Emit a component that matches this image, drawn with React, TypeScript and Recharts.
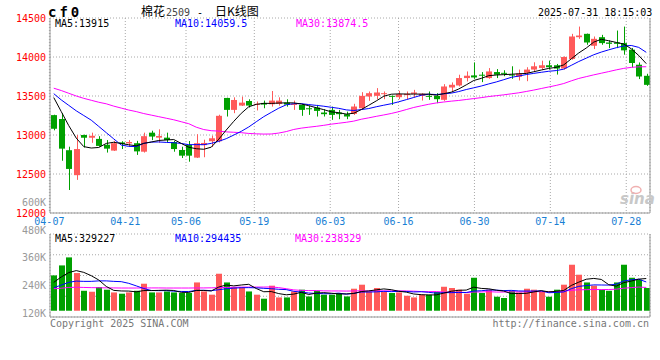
import React from 'react';
import { ComposedChart, Bar, Line, XAxis, YAxis, CartesianGrid } from 'recharts';

const dates = [
  '04-07','04-08','04-09','04-10','04-11','04-14','04-15','04-16','04-17','04-18',
  '04-21','04-22','04-23','04-24','04-25','04-28','04-29','04-30','05-06','05-07',
  '05-08','05-09','05-12','05-13','05-14','05-15','05-16','05-19','05-20','05-21',
  '05-22','05-23','05-26','05-27','05-28','05-29','05-30','06-03','06-04','06-05',
  '06-06','06-09','06-10','06-11','06-12','06-13','06-16','06-17','06-18','06-19',
  '06-20','06-23','06-24','06-25','06-26','06-27','06-30','07-01','07-02','07-03',
  '07-04','07-07','07-08','07-09','07-10','07-11','07-14','07-15','07-16','07-17',
  '07-18','07-21','07-22','07-23','07-24','07-25','07-28','07-29','07-30','07-31',
];

const opens = [
  13255,13205,12805,12485,13000,12965,12950,12875,12800,12905,
  12893,12895,12786,13030,12966,12966,12910,12808,12872,12710,
  12870,12920,12920,13475,13322,13377,13436,13395,13411,13394,
  13398,13415,13385,13386,13343,13352,13288,13322,13288,13267,
  13270,13343,13494,13502,13528,13502,13485,13511,13528,13502,
  13502,13502,13451,13609,13635,13730,13764,13773,13730,13807,
  13797,13775,13746,13797,13839,13860,13894,13894,13852,13975,
  14254,14297,14144,14254,14186,14186,14178,14094,13901,13759,
];
const highs = [
  13260,13280,12850,13000,13005,13030,12985,12935,12925,12920,
  12935,12925,13030,13055,13073,13030,12923,12850,12923,13010,
  12940,12992,13260,13478,13483,13492,13458,13430,13441,13564,
  13483,13458,13441,13390,13373,13386,13330,13364,13322,13300,
  13400,13549,13558,13601,13558,13505,13567,13558,13579,13536,
  13558,13536,13652,13674,13773,13815,13931,13807,13858,13845,
  13830,13881,13839,13869,13932,13953,13953,13911,14008,14297,
  14390,14300,14263,14284,14212,14339,14390,14116,13930,13785,
];
const lows = [
  13060,12670,12295,12425,12840,12900,12850,12775,12795,12820,
  12850,12745,12775,12935,12902,12902,12786,12705,12658,12705,
  12715,12847,12905,13237,13280,13372,13352,13315,13343,13364,
  13377,13364,13322,13246,13258,13237,13237,13195,13203,13203,
  13257,13330,13438,13459,13459,13386,13459,13459,13485,13442,
  13451,13408,13438,13558,13622,13687,13721,13678,13721,13730,
  13754,13720,13699,13690,13818,13839,13839,13775,13839,13966,
  14233,14157,14102,14157,14114,14114,14030,13866,13717,13630,
];
const closes = [
  13080,12825,12565,12820,12965,12990,12860,12825,12895,12885,
  12910,12790,12985,12980,12987,12936,12820,12735,12735,12895,
  12898,12958,13246,13322,13449,13415,13377,13400,13390,13441,
  13441,13390,13398,13322,13330,13309,13267,13258,13267,13237,
  13365,13502,13536,13545,13536,13494,13524,13528,13545,13528,
  13494,13459,13622,13644,13730,13760,13738,13760,13815,13773,
  13784,13763,13788,13839,13881,13894,13869,13852,14000,14263,
  14275,14186,14233,14178,14169,14169,14085,13923,13750,13643,
];

const ma5 = [
  13480,13300,13120,12960,12851,12833,12840,12892,12907,12891,
  12875,12861,12893,12910,12930,12936,12942,12892,12843,12824,
  12817,12844,12946,13064,13175,13278,13362,13393,13406,13405,
  13410,13412,13412,13398,13376,13350,13325,13297,13286,13268,
  13279,13326,13381,13437,13497,13523,13527,13525,13525,13524,
  13524,13511,13530,13549,13590,13643,13699,13726,13761,13769,
  13774,13779,13785,13789,13811,13833,13854,13867,13899,13976,
  14052,14115,14191,14227,14208,14187,14167,14105,14019,13915,
];
const ma10 = [
  13530,13450,13380,13310,13250,13190,13110,13030,12950,12871,
  12854,12851,12893,12909,12911,12905,12901,12892,12876,12877,
  12876,12893,12919,12953,12999,13047,13103,13170,13235,13290,
  13344,13387,13402,13402,13390,13380,13369,13355,13342,13322,
  13314,13326,13339,13362,13382,13401,13426,13453,13481,13510,
  13523,13519,13528,13537,13557,13583,13605,13628,13655,13680,
  13709,13739,13756,13775,13790,13804,13817,13826,13844,13893,
  13942,13985,14029,14063,14092,14119,14141,14148,14123,14060,
];
const ma30 = [
  13600,13570,13535,13500,13470,13445,13420,13400,13370,13345,
  13320,13300,13275,13255,13235,13215,13195,13170,13145,13100,
  13070,13055,13050,13040,13035,13030,13020,13015,13012,13013,
  13025,13044,13071,13088,13100,13111,13124,13139,13151,13163,
  13178,13202,13220,13239,13257,13276,13299,13326,13353,13374,
  13394,13411,13423,13434,13443,13455,13467,13479,13493,13504,
  13515,13528,13541,13558,13576,13596,13616,13636,13660,13694,
  13725,13748,13771,13792,13813,13835,13854,13867,13874,13875,
];

// volumes in thousands of lots
const volumesK = [
  361,463,545,385,204,194,242,215,187,174,
  187,204,276,187,187,197,187,181,181,289,
  197,164,378,289,242,242,197,164,123,256,
  136,136,197,215,146,204,164,164,181,146,
  225,266,197,232,197,181,187,153,136,164,
  164,191,245,232,215,174,337,181,215,143,
  130,204,187,225,215,194,143,215,266,470,
  368,289,256,215,204,289,470,337,317,232,
];
const vma5K = [
  290,345,390,410,392,358,314,248,208,202,
  201,193,206,206,208,210,207,188,187,207,
  207,202,242,263,254,263,270,227,194,196,
  175,163,170,188,166,180,185,179,172,172,
  176,196,203,213,223,215,199,190,171,164,
  161,162,180,199,209,211,241,228,224,210,
  201,175,176,178,192,205,193,198,207,258,
  292,322,330,320,266,251,287,303,323,329,
];
const vma10K = [
  235,262,290,303,300,300,305,305,300,297,
  280,254,227,207,205,206,200,197,196,208,
  209,205,215,225,231,235,236,234,229,225,
  219,216,198,191,181,177,174,174,180,169,
  178,191,191,193,198,195,198,197,192,194,
  188,180,185,185,187,186,201,204,212,210,
  206,208,202,201,201,203,184,187,192,225,
  249,257,264,263,262,272,304,316,322,294,
];
const vma30K = [
  225,230,238,240,238,236,235,234,233,232,
  232,232,233,233,233,232,232,232,232,233,
  233,234,236,238,240,241,242,242,242,243,
  236,225,213,208,206,206,203,202,202,201,
  202,204,201,203,203,203,203,202,200,196,
  195,196,191,189,189,186,191,192,195,191,
  191,193,193,193,195,195,194,196,199,209,
  214,215,217,216,217,220,230,236,242,238,
];

const tickLabels = ['04-07','04-21','05-06','05-19','06-03','06-16','06-30','07-14','07-28'];
const priceTicks = [12000, 12500, 13000, 13500, 14000, 14500];
const volLabelTicks = [120000, 240000, 360000, 480000, 600000];

const priceLegend = ['MA5:13915', 'MA10:14059.5', 'MA30:13874.5'];
const volLegend = ['MA5:329227', 'MA10:294435', 'MA30:238329'];

const RED = '#ff5a5a';
const GREEN = '#00a000';
const BLUE_TXT = '#1a7fd4';
const MONO = "'DejaVu Sans Mono', 'Liberation Mono', monospace";
const CJK = "'Noto Sans CJK SC', sans-serif";

const data = dates.map((d, i) => ({
  d,
  i,
  o: opens[i],
  h: highs[i],
  l: lows[i],
  c: closes[i],
  range: [lows[i], highs[i]],
  ma5: ma5[i],
  ma10: ma10[i],
  ma30: ma30[i],
  v: volumesK[i] * 1000,
  vma5: vma5K[i] * 1000,
  vma10: vma10K[i] * 1000,
  vma30: vma30K[i] * 1000,
}));

const tickIdx = tickLabels.map((t) => dates.indexOf(t));

const Candle = (props: any) => {
  const { x, y, width, height, payload } = props;
  if (!payload || x == null) return null;
  const { o, h, l, c } = payload;
  const top0 = Math.min(y, y + height);
  const hh = Math.abs(height);
  const ratio = h === l ? 0 : hh / (h - l);
  const color = c >= o ? RED : GREEN;
  const bTop = top0 + (h - Math.max(o, c)) * ratio;
  const bBot = top0 + (h - Math.min(o, c)) * ratio;
  const bx = Math.round(x);
  const cx = bx + Math.floor(width / 2);
  return (
    <g>
      <rect x={cx} y={top0} width={1} height={Math.max(hh, 1)} fill={color} />
      <rect x={bx} y={bTop} width={Math.round(width)} height={Math.max(bBot - bTop, 1)} fill={color} />
    </g>
  );
};

const VolBar = (props: any) => {
  const { x, y, width, height, payload } = props;
  if (!payload || x == null) return null;
  const color = payload.c >= payload.o ? RED : GREEN;
  return <rect x={Math.round(x)} y={y} width={Math.round(width)} height={Math.max(height, 0)} fill={color} />;
};

const gridProps = { stroke: '#a8a8a8', strokeDasharray: '1 2' };
const borderLine = { stroke: '#999999' };

export default function App() {
  return (
    <div style={{ position: 'absolute', left: 0, top: 0, width: 660, height: 360, background: '#fff', overflow: 'hidden' }}>
      <div style={{ position: 'absolute', left: 0, top: 0 }}>
        <ComposedChart width={660} height={360} data={data} margin={{ top: 18, right: 0, bottom: 127, left: 0 }}>
          <CartesianGrid xAxisId="t" yAxisId="p" {...gridProps} />
          <XAxis
            xAxisId="t"
            dataKey="i"
            type="number"
            domain={[0.08, 79.13]}
            allowDataOverflow
            ticks={tickIdx}
            interval={0}
            tickFormatter={(v: number) => dates[v] ?? ''}
            height={20}
            tickLine={false}
            tickSize={0}
            tickMargin={5}
            axisLine={borderLine}
            tick={{ fill: BLUE_TXT, fontSize: 10, fontFamily: MONO }}
          />
          <XAxis xAxisId="c" dataKey="d" type="category" hide height={0} />
          <YAxis
            yAxisId="p"
            type="number"
            domain={[12000, 14500]}
            allowDataOverflow
            ticks={priceTicks}
            interval={0}
            width={50}
            tickLine={false}
            tickSize={0}
            tickMargin={4}
            axisLine={borderLine}
            tick={{ fill: '#ff0000', fontSize: 10, fontFamily: MONO }}
          />
          <YAxis yAxisId="r" orientation="right" type="number" domain={[12000, 14500]} allowDataOverflow width={10} tick={false} tickLine={false} axisLine={borderLine} />
          <Bar xAxisId="c" yAxisId="p" dataKey="range" barSize={6} shape={Candle} isAnimationActive={false} />
          <Line xAxisId="c" yAxisId="p" dataKey="ma30" stroke="#ff00ff" strokeWidth={1} dot={false} activeDot={false} isAnimationActive={false} />
          <Line xAxisId="c" yAxisId="p" dataKey="ma10" stroke="#0000ff" strokeWidth={1} dot={false} activeDot={false} isAnimationActive={false} />
          <Line xAxisId="c" yAxisId="p" dataKey="ma5" stroke="#000000" strokeWidth={1} dot={false} activeDot={false} isAnimationActive={false} />
        </ComposedChart>
      </div>
      <div style={{ position: 'absolute', left: 0, top: 0 }}>
        <ComposedChart width={660} height={360} data={data} margin={{ top: 234, right: 0, bottom: 42, left: 0 }}>
          <CartesianGrid xAxisId="t" yAxisId="g" {...gridProps} />
          <XAxis
            xAxisId="t"
            dataKey="i"
            type="number"
            domain={[0.08, 79.13]}
            allowDataOverflow
            ticks={tickIdx}
            interval={0}
            height={1}
            tick={false}
            tickLine={false}
            axisLine={borderLine}
          />
          <XAxis xAxisId="c" dataKey="d" type="category" hide height={0} />
          <YAxis
            yAxisId="lbl"
            type="number"
            domain={[105800, 462800]}
            allowDataOverflow
            ticks={volLabelTicks}
            interval={0}
            width={50}
            tickFormatter={(v: number) => `${v / 1000}K`}
            tickLine={false}
            tickSize={0}
            tickMargin={4}
            axisLine={borderLine}
            tick={{ fill: '#999999', fontSize: 10, fontFamily: MONO }}
          />
          <YAxis yAxisId="v" type="number" hide width={0} domain={[-64000, 784000]} allowDataOverflow />
          <YAxis yAxisId="g" type="number" hide width={0} domain={[0, 4]} ticks={[0, 1, 2, 3, 4]} interval={0} allowDataOverflow />
          <YAxis yAxisId="r" orientation="right" type="number" domain={[0, 4]} allowDataOverflow width={10} tick={false} tickLine={false} axisLine={borderLine} />
          <Bar xAxisId="c" yAxisId="v" dataKey="v" barSize={6} shape={VolBar} isAnimationActive={false} />
          <Line xAxisId="c" yAxisId="v" dataKey="vma30" stroke="#ff00ff" strokeWidth={1} dot={false} activeDot={false} isAnimationActive={false} />
          <Line xAxisId="c" yAxisId="v" dataKey="vma10" stroke="#0000ff" strokeWidth={1} dot={false} activeDot={false} isAnimationActive={false} />
          <Line xAxisId="c" yAxisId="v" dataKey="vma5" stroke="#000000" strokeWidth={1} dot={false} activeDot={false} isAnimationActive={false} />
        </ComposedChart>
      </div>
      <svg width={660} height={360} style={{ position: 'absolute', left: 0, top: 0, pointerEvents: 'none' }}>
        <text x={48} y={17} fontFamily={MONO} fontWeight="bold" fontSize={14} letterSpacing={3} fill="#000">cf0</text>
        <text x={141} y={16} fontFamily={CJK} fontSize={12} fill="#000">棉花</text>
        <text x={166} y={16} fontFamily={MONO} fontSize={10} fill="#444">2509</text>
        <text x={197} y={16} fontFamily={MONO} fontSize={10} fill="#000">-</text>
        <text x={215} y={16} fontFamily={CJK} fontSize={12} fill="#000">日K线图</text>
        <text x={538} y={16} fontFamily={MONO} fontSize={10} fill="#000">2025-07-31 18:15:03</text>

        <text x={55} y={27} fontFamily={MONO} fontSize={10} fill="#000">{priceLegend[0]}</text>
        <text x={175} y={27} fontFamily={MONO} fontSize={10} fill="#0000ff">{priceLegend[1]}</text>
        <text x={296} y={27} fontFamily={MONO} fontSize={10} fill="#ff00ff">{priceLegend[2]}</text>

        <text x={55} y={242} fontFamily={MONO} fontSize={10} fill="#000">{volLegend[0]}</text>
        <text x={175} y={242} fontFamily={MONO} fontSize={10} fill="#0000ff">{volLegend[1]}</text>
        <text x={295} y={242} fontFamily={MONO} fontSize={10} fill="#ff00ff">{volLegend[2]}</text>

        <text x={620} y={204} fontFamily="'DejaVu Sans', sans-serif" fontStyle="italic" fontWeight="bold" fontSize={15} fill="#c8c8c8">sina</text>
        <ellipse cx={636} cy={190} rx={5} ry={3.5} fill="none" stroke="#f0b0b0" strokeWidth={1.5} />

        <text x={50} y={327} fontFamily={MONO} fontSize={10} fill="#777">Copyright 2025 SINA.COM</text>
        <text x={649} y={327} fontFamily={MONO} fontSize={10} fill="#777" textAnchor="end">http://finance.sina.com.cn</text>
      </svg>
    </div>
  );
}
